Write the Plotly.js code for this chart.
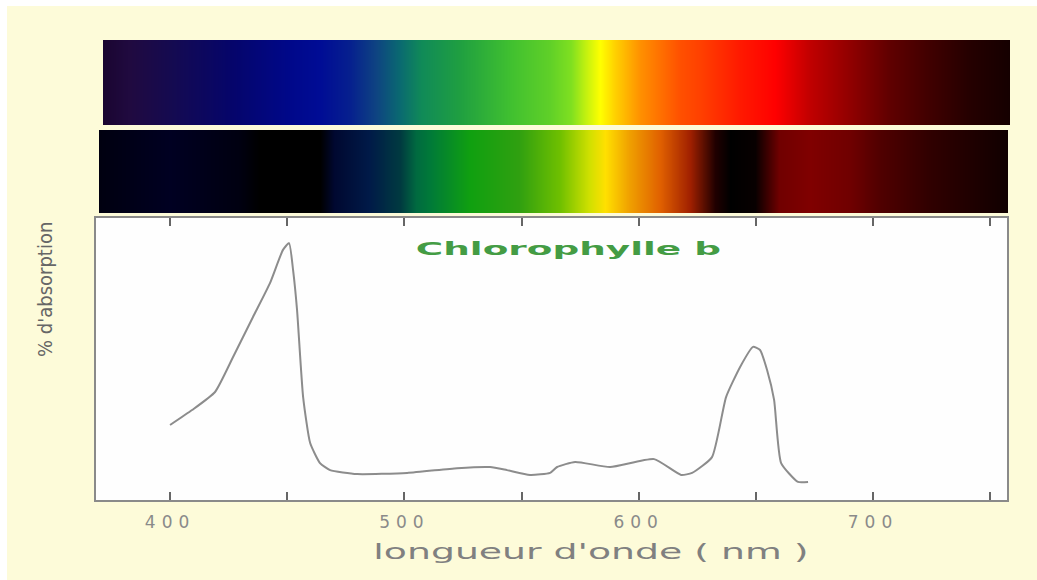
<!DOCTYPE html>
<html>
<head>
<meta charset="utf-8">
<script src="https://cdn.plot.ly/plotly-3.0.1.min.js"></script>
<style>
  html, body { margin: 0; padding: 0; background: #fdfbd9; }
  #chart { width: 1037px; height: 580px; }
  .xtick text { letter-spacing: 6px; }
  g.annotation[data-index="0"] text.annotation-text {
    transform-box: fill-box; transform-origin: center; transform: scaleX(2.2);
  }
  g.annotation[data-index="1"] text.annotation-text {
    transform-box: fill-box; transform-origin: center; transform: scaleX(1.8);
  }
</style>
</head>
<body>
<div id="chart"></div>
<script>
// Absorption curve of chlorophyll b
const wavelength = [400, 409.4, 419.2, 426.9, 435.4, 442.7, 448.2, 450.8, 452.5, 454.2, 456.8, 459.8, 464, 468.3, 479.8, 501.2, 522.5, 536.6, 543.8, 553.6, 562.2, 565.2, 572.9, 587.8, 606.6, 618.1, 622.8, 631.3, 637.3, 643.3, 648.8, 651.8, 654.8, 657.8, 660.8, 668, 672.3];
const absorption = [26.6, 31.9, 38.3, 50.7, 64.9, 77.0, 88.7, 91.1, 81.6, 67.4, 36.5, 20.2, 13.1, 10.6, 9.2, 9.6, 11.3, 11.7, 10.6, 8.9, 9.6, 11.7, 13.5, 11.7, 14.5, 8.9, 9.6, 15.2, 36.5, 47.2, 54.3, 53.2, 46.1, 35.5, 13.1, 6.4, 6.4];

// Full visible spectrum band (colour stops by wavelength)
const spectrumWl = [371, 383, 400, 426, 451, 464, 477, 487.5, 498, 507, 524, 545, 562, 571, 577, 583.5, 590, 600.6, 617.7, 626, 643, 658, 673, 690, 707, 724, 741, 758.5];
const spectrumColors = ['#1a0530', '#200a40', '#150a50', '#05056a', '#00088a', '#000c95', '#06208e', '#0e4282', '#0a6a70', '#108a58', '#20a040', '#40c030', '#60d028', '#80e020', '#c0f010', '#ffff00', '#ffd000', '#ff9000', '#ff5000', '#ff4000', '#ff1a00', '#ff0000', '#c00000', '#900000', '#600000', '#400000', '#250000', '#150000'];

// Light transmitted through chlorophyll b
const transmitWl = [370, 400, 430, 438, 464, 470, 485, 498, 505, 511, 528, 549, 566.5, 579, 585.7, 596, 609, 622, 632.6, 639, 649.7, 660, 673, 690, 703, 724, 757.7];
const transmitColors = ['#000010', '#000022', '#000010', '#000000', '#000000', '#000830', '#001a48', '#003a40', '#006a40', '#007a38', '#10a010', '#30a010', '#70c000', '#d0e000', '#ffe000', '#f0a000', '#e06000', '#a02000', '#200000', '#000000', '#080000', '#700000', '#800000', '#700000', '#500000', '#300000', '#100000'];

const tickValues = [400, 450, 500, 550, 600, 650, 700, 750];
const tickLabels = ['400', '', '500', '', '600', '', '700', ''];

const chartTitle = 'Chlorophylle b';
const xTitle = "longueur d'onde ( nm )";
const yTitle = "% d'absorption";

function scaleFrom(wl, cols) {
  const a = wl[0], b = wl[wl.length - 1];
  return wl.map((w, i) => [(w - a) / (b - a), cols[i]]);
}

const traces = [
  {
    type: 'heatmap', x: spectrumWl, y: [0, 1], z: [spectrumWl, spectrumWl],
    colorscale: scaleFrom(spectrumWl, spectrumColors),
    zmin: spectrumWl[0], zmax: spectrumWl[spectrumWl.length - 1],
    zsmooth: 'best', showscale: false, hoverinfo: 'skip',
    xaxis: 'x2', yaxis: 'y2'
  },
  {
    type: 'heatmap', x: transmitWl, y: [0, 1], z: [transmitWl, transmitWl],
    colorscale: scaleFrom(transmitWl, transmitColors),
    zmin: transmitWl[0], zmax: transmitWl[transmitWl.length - 1],
    zsmooth: 'best', showscale: false, hoverinfo: 'skip',
    xaxis: 'x3', yaxis: 'y3'
  },
  {
    type: 'scatter', mode: 'lines', x: wavelength, y: absorption,
    line: { color: '#8c8c8c', width: 2, shape: 'spline', smoothing: 0.5 },
    hoverinfo: 'skip', xaxis: 'x', yaxis: 'y'
  }
];

const W = 1037, H = 580;
const layout = {
  width: W, height: H,
  margin: { l: 0, r: 0, t: 0, b: 0 },
  paper_bgcolor: '#fdfbd9',
  plot_bgcolor: '#fefefe',
  showlegend: false,
  hovermode: false,
  xaxis: {
    domain: [96 / W, 1007 / W], range: [368.4, 757.2],
    showgrid: false, zeroline: false,
    showline: true, linecolor: '#8a8a8a', linewidth: 2, mirror: 'ticks',
    ticks: 'inside', ticklen: 8, tickwidth: 2, tickcolor: '#666666',
    tickmode: 'array', tickvals: tickValues, ticktext: tickLabels,
    ticklabelstandoff: 6,
    tickfont: { family: 'DejaVu Sans, sans-serif', size: 17, color: '#8a8a8a' },
    fixedrange: true
  },
  yaxis: {
    domain: [(H - 500) / H, (H - 218) / H], range: [0, 100],
    showgrid: false, zeroline: false, showticklabels: false,
    showline: true, linecolor: '#8a8a8a', linewidth: 2, mirror: true,
    ticks: '', fixedrange: true
  },
  xaxis2: {
    domain: [103 / W, 1010 / W], range: [371.4, 758.5], anchor: 'y2',
    visible: false, fixedrange: true
  },
  yaxis2: {
    domain: [(H - 125) / H, (H - 40) / H], range: [0, 1], anchor: 'x2',
    visible: false, fixedrange: true
  },
  xaxis3: {
    domain: [99 / W, 1008 / W], range: [369.7, 757.7], anchor: 'y3',
    visible: false, fixedrange: true
  },
  yaxis3: {
    domain: [(H - 213) / H, (H - 130) / H], range: [0, 1], anchor: 'x3',
    visible: false, fixedrange: true
  },
  shapes: [
    { type: 'rect', xref: 'paper', yref: 'paper', x0: 0, x1: 7 / W, y0: 0, y1: 1,
      fillcolor: '#ffffff', line: { width: 0 }, layer: 'below' },
    { type: 'rect', xref: 'paper', yref: 'paper', x0: 0, x1: 1, y0: (H - 6) / H, y1: 1,
      fillcolor: '#ffffff', line: { width: 0 }, layer: 'below' }
  ],
  annotations: [
    { text: chartTitle, xref: 'paper', yref: 'paper', x: 568 / W, y: (H - 249) / H,
      xanchor: 'center', yanchor: 'middle', showarrow: false,
      font: { family: 'DejaVu Sans, sans-serif', size: 17, color: '#449c44', weight: 'bold' } },
    { text: xTitle, xref: 'paper', yref: 'paper', x: 591 / W, y: (H - 552) / H,
      xanchor: 'center', yanchor: 'middle', showarrow: false,
      font: { family: 'DejaVu Sans, sans-serif', size: 21, color: '#808080' } },
    { text: yTitle, xref: 'paper', yref: 'paper', x: 45 / W, y: (H - 290) / H,
      xanchor: 'center', yanchor: 'middle', showarrow: false, textangle: -90,
      font: { family: 'DejaVu Sans Condensed, DejaVu Sans, sans-serif', size: 20, color: '#666666' } }
  ]
};

Plotly.newPlot('chart', traces, layout, { displayModeBar: false, staticPlot: true });
</script>
</body>
</html>
